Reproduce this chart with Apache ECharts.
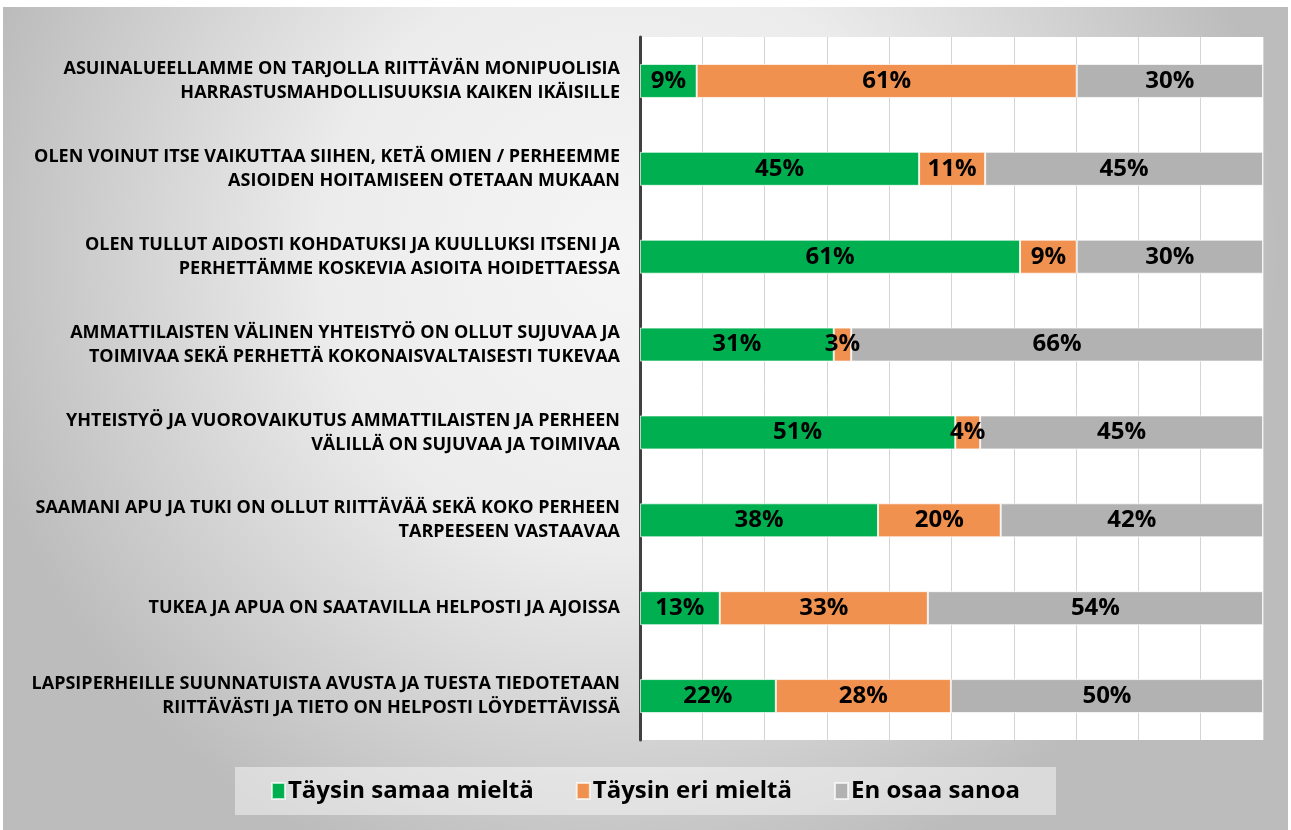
<!DOCTYPE html>
<html>
<head>
<meta charset="utf-8">
<script src="https://cdn.jsdelivr.net/npm/echarts@6/dist/echarts.min.js"></script>
<style>
  html, body { margin: 0; padding: 0; background: #ffffff; }
  #chart { position: absolute; left: 3px; top: 7px; width: 1285px; height: 823px; }
</style>
</head>
<body>
<div id="chart"></div>
<script>
// kysymykset, ylhäältä alas
var categories = [
  'ASUINALUEELLAMME ON TARJOLLA RIITTÄVÄN MONIPUOLISIA\nHARRASTUSMAHDOLLISUUKSIA KAIKEN IKÄISILLE',
  'OLEN VOINUT ITSE VAIKUTTAA SIIHEN, KETÄ OMIEN / PERHEEMME\nASIOIDEN HOITAMISEEN OTETAAN MUKAAN',
  'OLEN TULLUT AIDOSTI KOHDATUKSI JA KUULLUKSI ITSENI JA\nPERHETTÄMME KOSKEVIA ASIOITA HOIDETTAESSA',
  'AMMATTILAISTEN VÄLINEN YHTEISTYÖ ON OLLUT SUJUVAA JA\nTOIMIVAA SEKÄ PERHETTÄ KOKONAISVALTAISESTI TUKEVAA',
  'YHTEISTYÖ JA VUOROVAIKUTUS AMMATTILAISTEN JA PERHEEN\nVÄLILLÄ ON SUJUVAA JA TOIMIVAA',
  'SAAMANI APU JA TUKI ON OLLUT RIITTÄVÄÄ SEKÄ KOKO PERHEEN\nTARPEESEEN VASTAAVAA',
  'TUKEA JA APUA ON SAATAVILLA HELPOSTI JA AJOISSA',
  'LAPSIPERHEILLE SUUNNATUISTA AVUSTA JA TUESTA TIEDOTETAAN\nRIITTÄVÄSTI JA TIETO ON HELPOSTI LÖYDETTÄVISSÄ'
];
var samaa = [9.1, 44.8, 61.0, 31.1, 50.6, 38.2, 12.8, 21.8];
var eri   = [61.0, 10.6, 9.1, 2.8, 4.0, 19.7, 33.4, 28.1];
var enOsaa = [29.9, 44.6, 29.9, 66.1, 45.4, 42.1, 53.8, 50.1];
var seriesNames = ['Täysin samaa mieltä', 'Täysin eri mieltä', 'En osaa sanoa'];
var colors = ['#00b050', '#f0914f', '#b2b2b2'];
var xTicks = [0, 10, 20, 30, 40, 50, 60, 70, 80, 90, 100];

var font = '"Open Sans", "Liberation Sans", sans-serif';

function makeSeries(name, data, color) {
  return {
    name: name,
    type: 'bar',
    stack: 'yht',
    barWidth: 34,
    data: data,
    itemStyle: { color: color, borderColor: 'rgba(255,255,255,0.7)', borderWidth: 1 },
    label: {
      show: true,
      position: 'inside',
      color: '#000',
      fontFamily: font,
      fontWeight: 'bold',
      fontSize: 24,
      formatter: function (p) { return Math.round(p.value) + '%'; }
    }
  };
}

var myChart = echarts.init(document.getElementById('chart'));
var option = {
  backgroundColor: {
    type: 'radial', x: 0.48, y: 0.3, r: 0.8,
    colorStops: [
      { offset: 0, color: '#f5f5f5' },
      { offset: 0.45, color: '#ececec' },
      { offset: 1, color: '#bcbcbc' }
    ]
  },
  animation: false,
  grid: { left: 637, right: 25, top: 30, bottom: 90, containLabel: false, show: true, backgroundColor: '#ffffff', borderWidth: 0 },
  legend: {
    data: seriesNames,
    left: 'center',
    top: 760,
    backgroundColor: 'rgba(255,255,255,0.45)',
    padding: [12, 36, 12, 36],
    itemGap: 42,
    itemWidth: 13,
    itemHeight: 16,
    icon: 'rect',
    textStyle: { color: '#000', fontFamily: font, fontWeight: 'bold', fontSize: 24, padding: [0, 0, 0, -2] }
  },
  xAxis: {
    type: 'value',
    min: xTicks[0],
    max: xTicks[xTicks.length - 1],
    interval: 10,
    axisLabel: { show: false },
    axisLine: { show: false },
    axisTick: { show: false },
    splitLine: { show: true, lineStyle: { color: '#d4d4d4', width: 1 } }
  },
  yAxis: {
    type: 'category',
    inverse: true,
    data: categories,
    axisLine: { show: true, lineStyle: { color: '#404040', width: 3 } },
    axisTick: { show: false },
    axisLabel: {
      margin: 20,
      color: '#000',
      fontFamily: font,
      fontWeight: 'bold',
      fontSize: 18,
      lineHeight: 24,
      align: 'right'
    }
  },
  series: [
    makeSeries(seriesNames[0], samaa, colors[0]),
    makeSeries(seriesNames[1], eri, colors[1]),
    makeSeries(seriesNames[2], enOsaa, colors[2])
  ]
};
myChart.setOption(option);
</script>
</body>
</html>
